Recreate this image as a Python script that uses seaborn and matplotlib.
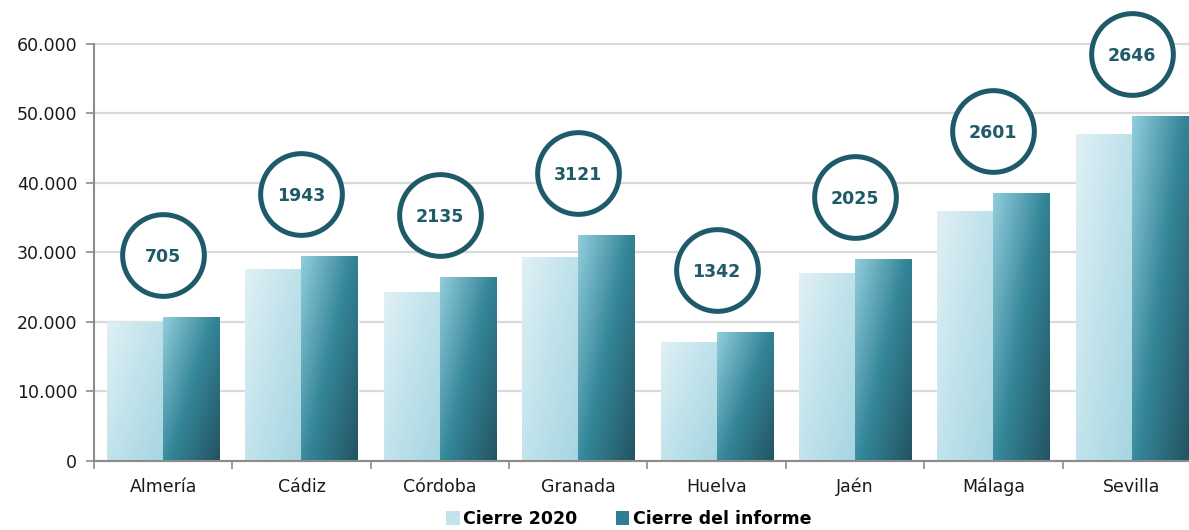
import numpy as np
import pandas as pd
import matplotlib
matplotlib.use("Agg")
import matplotlib.pyplot as plt
import matplotlib.transforms as mtransforms
from matplotlib.colors import LinearSegmentedColormap
from matplotlib.patches import Patch
from matplotlib.ticker import FuncFormatter, FixedLocator
import seaborn as sns

# Datos
provincias = ["Almería", "Cádiz", "Córdoba", "Granada", "Huelva", "Jaén", "Málaga", "Sevilla"]
cierre_2020 = [20050, 27600, 24350, 29350, 17150, 27050, 35970, 47050]
cierre_informe = [20755, 29543, 26485, 32471, 18492, 29075, 38571, 49696]
diferencias = ["705", "1943", "2135", "3121", "1342", "2025", "2601", "2646"]
series = ["Cierre 2020", "Cierre del informe"]

df = pd.DataFrame({
    "provincia": provincias * 2,
    "valor": cierre_2020 + cierre_informe,
    "serie": [series[0]] * len(provincias) + [series[1]] * len(provincias),
})

sns.set_style("white")
plt.rcParams["font.family"] = ["DejaVu Sans"]

fig = plt.figure(figsize=(11.89, 5.30), dpi=100)
# el eje se sale un poco por la derecha, como en el original
ax = fig.add_axes([0.079, 0.1302, 0.931, 0.7868])

sns.barplot(data=df, x="provincia", y="valor", hue="serie",
            palette=["#C3E3EB", "#2F7E94"], width=0.81, saturation=1,
            legend=False, ax=ax, zorder=2)

# gradientes en las barras
cmap_2020 = LinearSegmentedColormap.from_list("c2020", ["#E0F0F5", "#C0E2EB", "#A5D5E1"])
cmap_inf = LinearSegmentedColormap.from_list("cinf", ["#92CDDC", "#348699", "#235462"])
u, v = np.meshgrid(np.linspace(0, 1, 60), np.linspace(0, 1, 60))
grad = 0.55 * u + 0.45 * v
for cont, cm in zip(ax.containers, [cmap_2020, cmap_inf]):
    for bar in cont:
        x0, y0 = bar.get_x(), bar.get_y()
        w, h = bar.get_width(), bar.get_height()
        im = ax.imshow(grad, extent=[x0, x0 + w, y0, y0 + h], origin="upper",
                       cmap=cm, aspect="auto", zorder=2.5, interpolation="bilinear")
        im.set_clip_path(bar)

ax.set_xlim(-0.5, len(provincias) - 0.5)
ax.set_ylim(0, 60000)

# círculos con la diferencia
trans = mtransforms.offset_copy(ax.transData, fig=fig, x=0, y=62 * 72 / 100, units="points")
xs = np.arange(len(provincias))
ax.scatter(xs, cierre_informe, s=3460, facecolors="white", edgecolors="#1F5A69",
           linewidths=3.6, transform=trans, zorder=4, clip_on=False)
for x, y, t in zip(xs, cierre_informe, diferencias):
    ax.text(x, y, t, transform=trans, ha="center", va="center_baseline",
            fontsize=12.5, fontweight="bold", color="#1F5A69", zorder=5, clip_on=False)

# ejes
ax.set_xlabel("")
ax.set_ylabel("")
ax.yaxis.set_major_locator(FixedLocator(np.arange(0, 60001, 10000)))
ax.yaxis.set_major_formatter(FuncFormatter(lambda val, p: f"{int(val):,}".replace(",", ".")))
ax.grid(axis="y", color="#D9D9D9", linewidth=1.6)
for gl in ax.get_ygridlines():
    gl.set_clip_on(False)
ax.set_axisbelow(True)
for s in ["top", "right"]:
    ax.spines[s].set_visible(False)
for s in ["left", "bottom"]:
    ax.spines[s].set_color("#8C8C8C")
    ax.spines[s].set_linewidth(1.5)
ax.tick_params(axis="y", length=6, width=1.2, color="#8C8C8C", labelsize=12.5,
               labelcolor="#1A1A1A", pad=6, left=True)
ax.tick_params(axis="x", which="major", length=0, labelsize=12.5, labelcolor="#1A1A1A", pad=12)
ax.set_xticks(np.arange(-0.5, len(provincias), 1), minor=True)
ax.tick_params(axis="x", which="minor", length=6, width=1.2, color="#8C8C8C", bottom=True)

handles = [Patch(facecolor="#C3E3EB", edgecolor="none"), Patch(facecolor="#2F7E94", edgecolor="none")]
leg = ax.legend(handles, series, loc="center", bbox_to_anchor=(0.483, -0.139), ncol=2,
                frameon=False, handlelength=0.8, handleheight=0.8, handletextpad=0.2,
                columnspacing=2.2, prop={"size": 12.5, "weight": "bold"})
for t in leg.get_texts():
    t.set_color("black")

fig.savefig("out.png", dpi=100)
